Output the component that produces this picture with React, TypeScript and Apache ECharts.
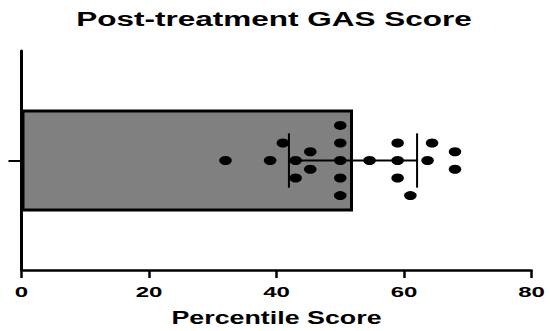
import React, { useEffect, useRef } from "react";
import * as echarts from "echarts";

const categories = ["Post-treatment"];
const meanScore = [52];
const sdScore = [10.05];
const scoreValues = [32, 39, 41, 43, 43, 45.3, 45.3, 50, 50, 50, 50, 50, 54.6, 59, 59, 59, 61, 64.4, 63.7, 68, 68];
const swarmOffsets = [0, 0, 1, 0, -1, 0.5, -0.5, 2, 1, 0, -1, -2, 0, 1, 0, -1, -2, 1, 0, 0.5, -0.5];
const xTickValues = [0, 20, 40, 60, 80];
const titleText = "Post-treatment GAS Score";
const xAxisTitle = "Percentile Score";

const FONT = "'Liberation Sans', Arial, sans-serif";

export default function App() {
  const ref = useRef<HTMLDivElement>(null);
  useEffect(() => {
    document.body.style.margin = "0";
    if (!ref.current) return;
    const chart = echarts.init(ref.current, undefined, { renderer: "svg" });
    const points = scoreValues.map((v, i) => [v, swarmOffsets[i]]);
    const xMin = xTickValues[0];
    const xMax = xTickValues[xTickValues.length - 1];
    const xStep = xTickValues[1] - xTickValues[0];
    chart.setOption({
      animation: false,
      backgroundColor: "#fff",
      grid: { left: 21.5, right: 18.5, top: 51, bottom: 61 },
      xAxis: [
        {
          type: "value",
          min: xMin,
          max: xMax,
          interval: xStep,
          axisLine: { show: true, onZero: false, lineStyle: { color: "#000", width: 2.5 } },
          axisTick: { show: true, length: 8, lineStyle: { color: "#000", width: 2.5 } },
          splitLine: { show: false },
          axisLabel: { show: false },
        },
      ],
      yAxis: [
        {
          type: "category",
          data: categories,
          axisLine: { show: true, onZero: false, lineStyle: { color: "#000", width: 3 } },
          axisTick: { show: true, length: 13, alignWithLabel: true, lineStyle: { color: "#000", width: 2 } },
          axisLabel: { show: false },
          splitLine: { show: false },
        },
        { type: "value", min: -6.25, max: 6.25, show: false },
      ],
      series: [
        {
          type: "bar",
          xAxisIndex: 0,
          yAxisIndex: 0,
          data: meanScore,
          barWidth: 102,
          itemStyle: { color: "#808080", borderColor: "#000", borderWidth: 3 },
          z: 2,
        },
        {
          type: "custom",
          xAxisIndex: 0,
          yAxisIndex: 1,
          data: meanScore.map((m, i) => [m, sdScore[i]]),
          z: 3,
          renderItem: (params: any, api: any) => {
            const m = api.value(0);
            const sd = api.value(1);
            const lo = api.coord([m - sd, 0]);
            const hi = api.coord([m + sd, 0]);
            const half = api.size([0, 1.55])[1];
            const style = { stroke: "#000", lineWidth: 2 };
            return {
              type: "group",
              children: [
                { type: "line", shape: { x1: lo[0], y1: lo[1], x2: hi[0], y2: hi[1] }, style },
                { type: "line", shape: { x1: lo[0], y1: lo[1] - half, x2: lo[0], y2: lo[1] + half }, style },
                { type: "line", shape: { x1: hi[0], y1: hi[1] - half, x2: hi[0], y2: hi[1] + half }, style },
              ],
            };
          },
        },
        {
          type: "scatter",
          xAxisIndex: 0,
          yAxisIndex: 1,
          data: points,
          symbol: "circle",
          symbolSize: [12.5, 9],
          itemStyle: { color: "#000", opacity: 1 },
          z: 4,
        },
      ],
    });

    const axisY = chart.convertToPixel({ yAxisIndex: 1 }, -6.25) as number;
    const x0 = chart.convertToPixel({ xAxisIndex: 0 }, xMin) as number;
    const x1 = chart.convertToPixel({ xAxisIndex: 0 }, xMax) as number;
    const tickTexts = xTickValues.map((v) => ({
      type: "text",
      x: chart.convertToPixel({ xAxisIndex: 0 }, v) as number,
      y: axisY + 21.5,
      scaleX: 1.6,
      z: 10,
      style: {
        text: String(v),
        fontFamily: FONT,
        fontWeight: "bold",
        fontSize: 15,
        fill: "#000",
        textAlign: "center",
        textVerticalAlign: "middle",
      },
    }));
    chart.setOption({
      graphic: [
        {
          type: "text",
          x: 274,
          y: 19,
          scaleX: 1.5,
          z: 10,
          style: {
            text: titleText,
            fontFamily: FONT,
            fontWeight: "bold",
            fontSize: 21,
            fill: "#000",
            textAlign: "center",
            textVerticalAlign: "middle",
          },
        },
        {
          type: "text",
          x: (x0 + x1) / 2,
          y: axisY + 48,
          scaleX: 1.45,
          z: 10,
          style: {
            text: xAxisTitle,
            fontFamily: FONT,
            fontWeight: "bold",
            fontSize: 18.5,
            fill: "#000",
            textAlign: "center",
            textVerticalAlign: "middle",
          },
        },
        ...tickTexts,
      ],
    });
    return () => chart.dispose();
  }, []);
  return <div ref={ref} style={{ width: 550, height: 331 }} />;
}
